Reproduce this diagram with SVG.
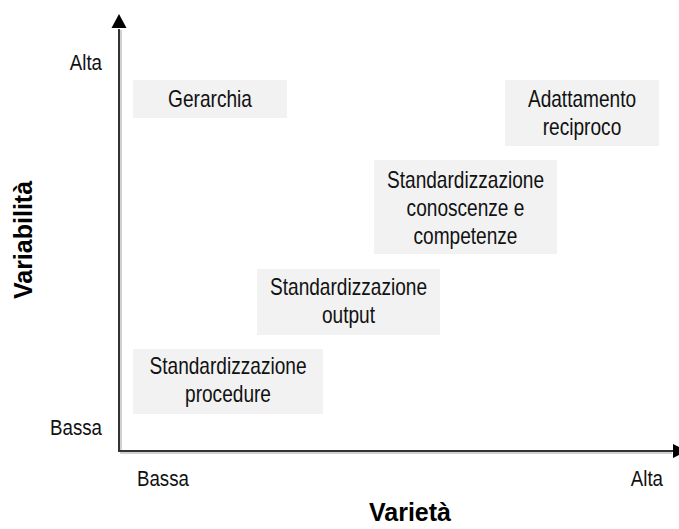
<svg xmlns="http://www.w3.org/2000/svg" width="679" height="529" viewBox="0 0 679 529">
  <style>
    .box { fill: #f2f2f2; }
    .t { font-family: "Liberation Sans", Arial, sans-serif; font-size: 23px; fill: #111; text-anchor: middle; }
    .ax { font-family: "Liberation Sans", Arial, sans-serif; font-size: 22px; fill: #111; }
    .title { font-family: "Liberation Sans", Arial, sans-serif; font-size: 25px; font-weight: bold; fill: #000; text-anchor: middle; }
    .axis { stroke: #333; stroke-width: 2; fill: none; }
    .shadow { stroke: #999; stroke-width: 4; fill: none; opacity: 0.45; }
  </style>
  <defs>
    <marker id="arrow" viewBox="0 0 10 10" refX="0" refY="5" markerWidth="7.5" markerHeight="7.5" markerUnits="userSpaceOnUse" orient="auto">
      <path d="M0,0 L10,5 L0,10 Z" fill="#000"/>
    </marker>
  </defs>
  <rect width="679" height="529" fill="#fff"/>

  <g id="connectors">
    <line class="shadow" x1="120" y1="30" x2="120" y2="452"/>
    <line class="shadow" x1="120" y1="452" x2="672" y2="452"/>
    <line class="axis" x1="119" y1="451" x2="119" y2="29"/>
    <path d="M111.5,28 L119,14 L126.5,28 Z" fill="#000"/>
    <line class="axis" x1="118" y1="451" x2="674" y2="451"/>
    <path d="M673,444 L687,451 L673,458 Z" fill="#000"/>
  </g>

  <g id="axis-labels">
    <text class="ax" x="102" y="70" text-anchor="end" transform="translate(102,0) scale(0.85,1) translate(-102,0)">Alta</text>
    <text class="ax" x="102" y="435" text-anchor="end" transform="translate(102,0) scale(0.85,1) translate(-102,0)">Bassa</text>
    <text class="ax" x="137" y="486" transform="translate(137,0) scale(0.85,1) translate(-137,0)">Bassa</text>
    <text class="ax" x="663" y="486" text-anchor="end" transform="translate(663,0) scale(0.85,1) translate(-663,0)">Alta</text>
    <text class="title" x="410" y="521">Varietà</text>
    <text class="title" transform="translate(32,240) rotate(-90)" x="0" y="0">Variabilità</text>
  </g>

  <g id="gerarchia">
    <rect class="box" x="133" y="80" width="154" height="38"/>
    <g transform="translate(210,0) scale(0.83,1)">
      <text class="t" x="0" y="107">Gerarchia</text>
    </g>
  </g>

  <g id="adattamento">
    <rect class="box" x="505" y="80" width="154" height="66"/>
    <g transform="translate(582,0) scale(0.83,1)">
      <text class="t" x="0" y="107">Adattamento</text>
      <text class="t" x="0" y="135">reciproco</text>
    </g>
  </g>

  <g id="std-conoscenze">
    <rect class="box" x="374" y="160" width="183" height="94"/>
    <g transform="translate(465.5,0) scale(0.83,1)">
      <text class="t" x="0" y="188">Standardizzazione</text>
      <text class="t" x="0" y="216">conoscenze e</text>
      <text class="t" x="0" y="244">competenze</text>
    </g>
  </g>

  <g id="std-output">
    <rect class="box" x="257" y="269" width="183" height="66"/>
    <g transform="translate(348.5,0) scale(0.83,1)">
      <text class="t" x="0" y="295">Standardizzazione</text>
      <text class="t" x="0" y="323">output</text>
    </g>
  </g>

  <g id="std-procedure">
    <rect class="box" x="133" y="349" width="190" height="65"/>
    <g transform="translate(228,0) scale(0.83,1)">
      <text class="t" x="0" y="374">Standardizzazione</text>
      <text class="t" x="0" y="402">procedure</text>
    </g>
  </g>
</svg>
